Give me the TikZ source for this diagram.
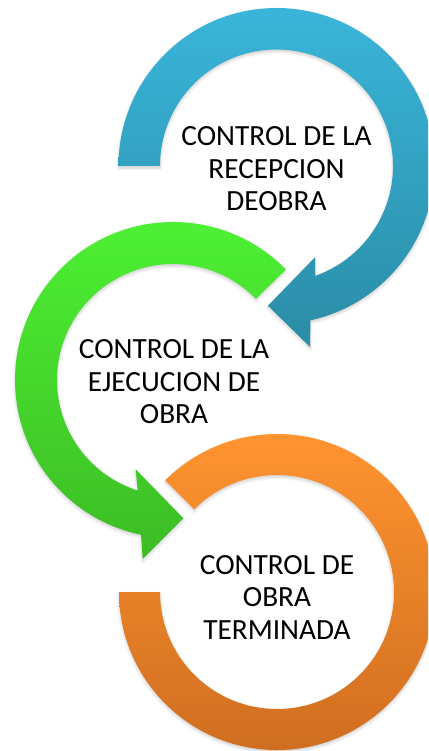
\documentclass[tikz,border=0pt]{standalone}
\usepackage{fontspec}
\setmainfont{Carlito}
\usetikzlibrary{shadows.blur}

\definecolor{bluetop}{RGB}{58,181,217}
\definecolor{bluebot}{RGB}{42,140,166}
\definecolor{greentop}{RGB}{78,242,52}
\definecolor{greenbot}{RGB}{60,188,36}
\definecolor{orangetop}{RGB}{255,148,48}
\definecolor{orangebot}{RGB}{208,110,32}

\begin{document}
\begin{tikzpicture}[x=1pt, y=-1pt,
    labeltext/.style={align=center, font=\fontsize{29.3}{32.5}\selectfont, inner sep=0pt},
    ringshape/.style={blur shadow={shadow xshift=0pt, shadow yshift=-2pt, shadow opacity=20, shadow blur radius=3pt}}]

    \useasboundingbox (0,0) rectangle (428,751);
    \clip (0,0) rectangle (428,751);

    % Blue arrow
    \begin{scope}[shift={(276.5,166)}]
        \shade[ringshape, top color=bluetop, bottom color=bluebot]
            (180:158) arc[start angle=180, end angle=437.6, radius=158]
            -- (79.5:184) -- (93.5:140) -- (67:99) -- (70.7:116.5)
            arc[start angle=430.7, end angle=180, radius=116.5] -- cycle;
    \end{scope}

    % Green arrow
    \begin{scope}[shift={(173,380)}]
        \shade[ringshape, top color=greentop, bottom color=greenbot]
            (-44.4:116) -- (-44.4:158) arc[start angle=-44.4, end angle=-258.3, radius=158]
            -- (-260.4:181.5) -- (-274.3:138.7) -- (-247.3:96.8) -- (-252.3:116)
            arc[start angle=-252.3, end angle=-44.4, radius=116] -- cycle;
    \end{scope}

    % Orange ring
    \begin{scope}[shift={(277,592)}]
        \shade[ringshape, top color=orangetop, bottom color=orangebot]
            (180:158) arc[start angle=180, end angle=-135, radius=158]
            -- (-135:117) arc[start angle=-135, end angle=180, radius=117] -- cycle;
    \end{scope}

    % Labels
    \node[labeltext] (recepcion) at (276.5,169) {CONTROL DE LA\\RECEPCION\\DEOBRA};
    \node[labeltext] (ejecucion) at (174,382) {CONTROL DE LA\\EJECUCION DE\\OBRA};
    \node[labeltext] (terminada) at (277,597) {CONTROL DE\\OBRA\\TERMINADA};

\end{tikzpicture}
\end{document}
